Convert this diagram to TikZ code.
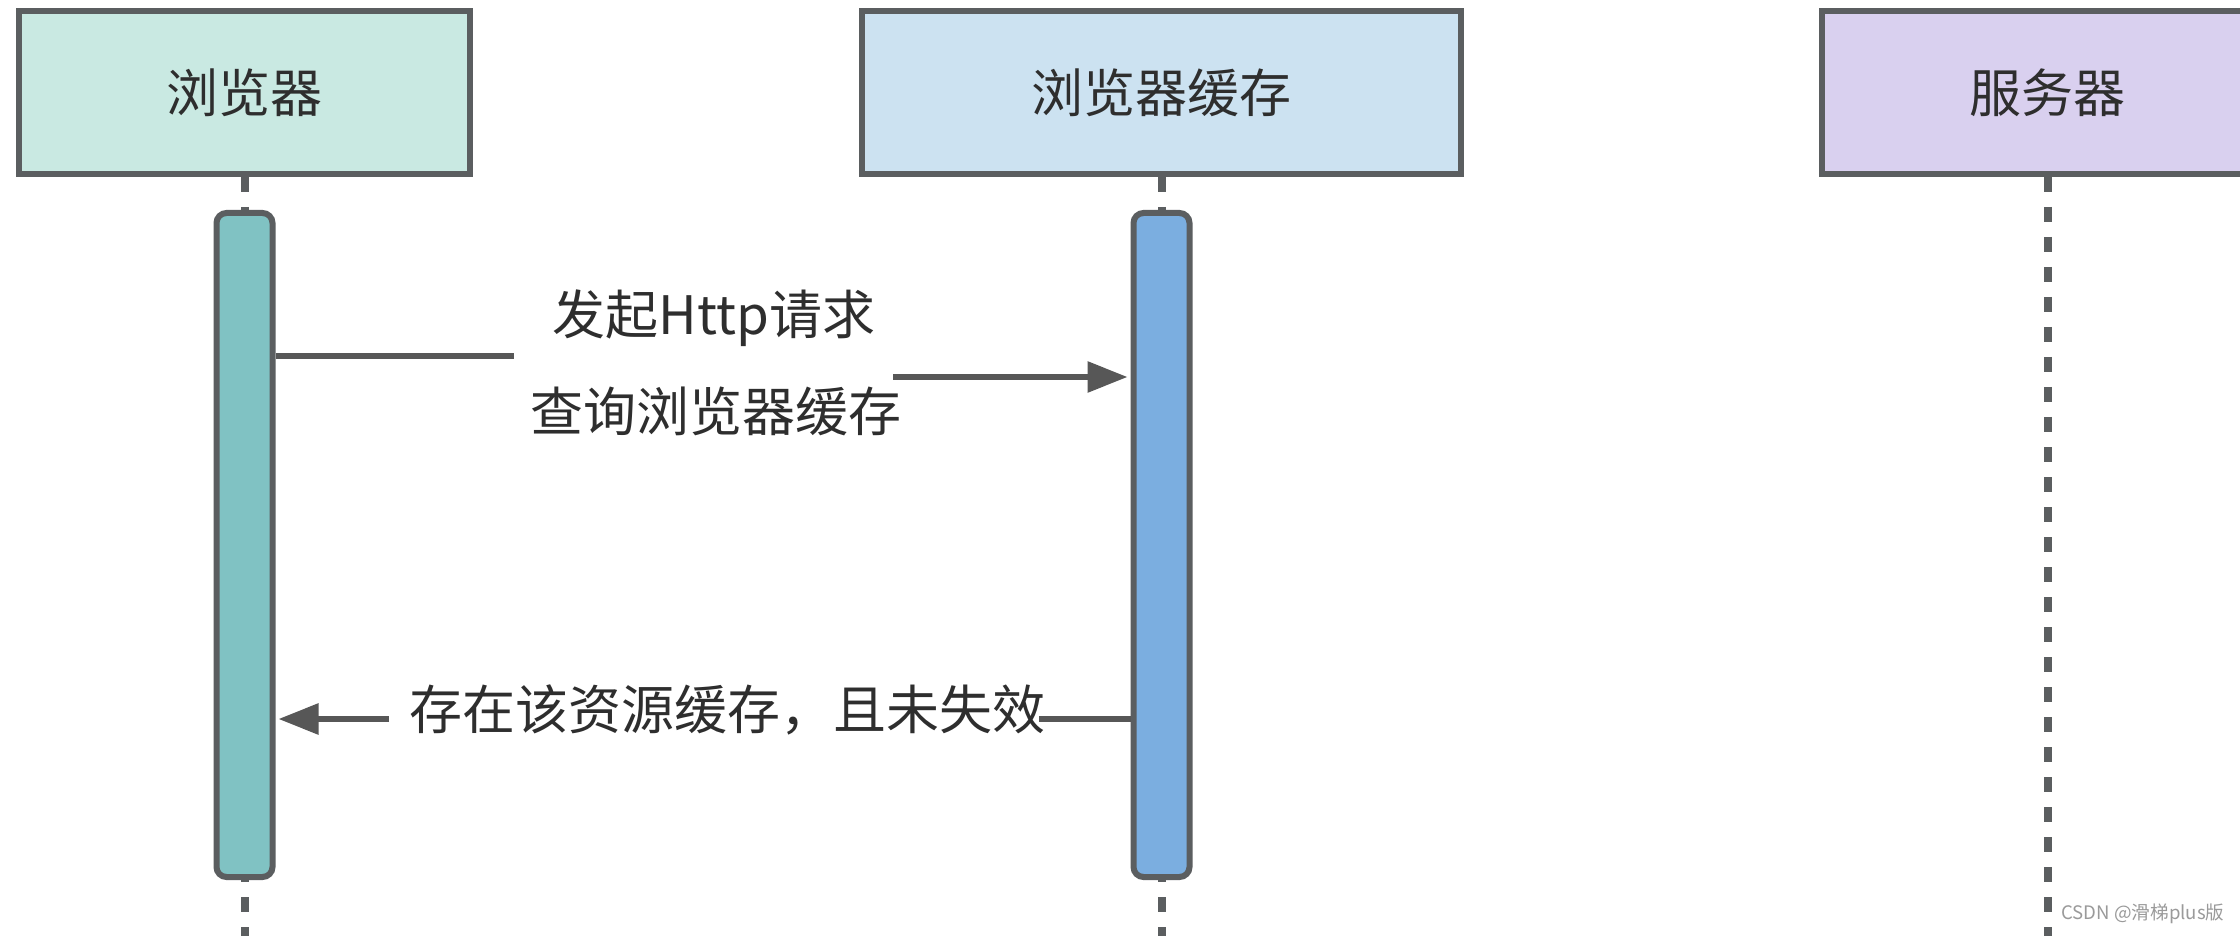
\documentclass[tikz,border=0pt]{standalone}
\usepackage{fontspec}
\setmainfont{Noto Sans CJK SC}
\usepackage{xcolor}
\usetikzlibrary{arrows.meta, positioning}

\definecolor{edgegray}{HTML}{5B5E60}
\definecolor{arrowgray}{HTML}{575757}
\definecolor{textgray}{HTML}{2E2E2E}
\definecolor{markgray}{HTML}{9A9A9A}
\definecolor{browserfill}{HTML}{C9E9E2}
\definecolor{cachefill}{HTML}{CCE2F1}
\definecolor{serverfill}{HTML}{D9D0EF}
\definecolor{browserbar}{HTML}{80C2C3}
\definecolor{cachebar}{HTML}{7BAEE0}

\begin{document}
\begin{tikzpicture}[x=0.5pt, y=-0.5pt, >={Triangle[length=20pt,width=15pt]}]
    \tikzstyle{actor} = [rectangle, draw=edgegray, line width=3pt, minimum height=81.5pt, text=textgray, font=\fontsize{26}{30}\selectfont]
    \tikzstyle{actbar} = [rectangle, draw=edgegray, line width=3pt, rounded corners=5pt, minimum width=28pt, minimum height=332pt]
    \tikzstyle{lifeline} = [draw=edgegray, line width=4pt, dash pattern=on 7.5pt off 7.5pt]
    \tikzstyle{msg} = [draw=arrowgray, line width=3pt]
    \tikzstyle{msgtext} = [text=textgray, inner sep=0pt, font=\fontsize{26.5}{30}\selectfont]

    \path[use as bounding box, fill=white] (0,0) rectangle (2240,936);
    \clip (0,0) rectangle (2240,936);
    \coordinate (bottom) at (0,936);

    % participants
    \node [actor, fill=browserfill, minimum width=225.5pt] (browser) at (244.5,92.5) {浏览器};
    \node [actor, fill=cachefill, minimum width=299.5pt] (cache) at (1161.5,92.5) {浏览器缓存};
    \node [actor, fill=serverfill, minimum width=225.5pt] (server) at (2047.5,92.5) {服务器};

    \draw [lifeline] (browser.south) -- (browser.south |- bottom);
    \draw [lifeline] (cache.south) -- (cache.south |- bottom);
    \draw [lifeline] (server.south) -- (server.south |- bottom);

    % activation bars
    \node [actbar, fill=browserbar] (bbar) at (244.5,545) {};
    \node [actbar, fill=cachebar] (cbar) at (1161.5,545) {};

    % request
    \coordinate (req1) at (514,356);
    \coordinate (req2) at (893,377);
    \draw [msg] (bbar.east |- req1) -- (req1);
    \draw [msg, ->, shorten >=1.5pt] (req2) -- (cbar.west |- req2);
    \node [msgtext] (reqa) at (714,318) {发起Http请求};
    \node [msgtext] (reqb) at (716,411) {查询浏览器缓存};

    % response
    \coordinate (ret1) at (1039,719);
    \coordinate (ret2) at (389,719);
    \draw [msg] (cbar.west |- ret1) -- (ret1);
    \draw [msg, ->, shorten >=1.5pt] (ret2) -- (bbar.east |- ret2);
    \node [msgtext] (reta) at (727,710) {存在该资源缓存，且未失效};

    \node [text=markgray, anchor=west, inner sep=0pt, font=\fontsize{9.3}{11}\selectfont] (mark) at (2061,914) {CSDN @滑梯plus版};
\end{tikzpicture}
\end{document}
